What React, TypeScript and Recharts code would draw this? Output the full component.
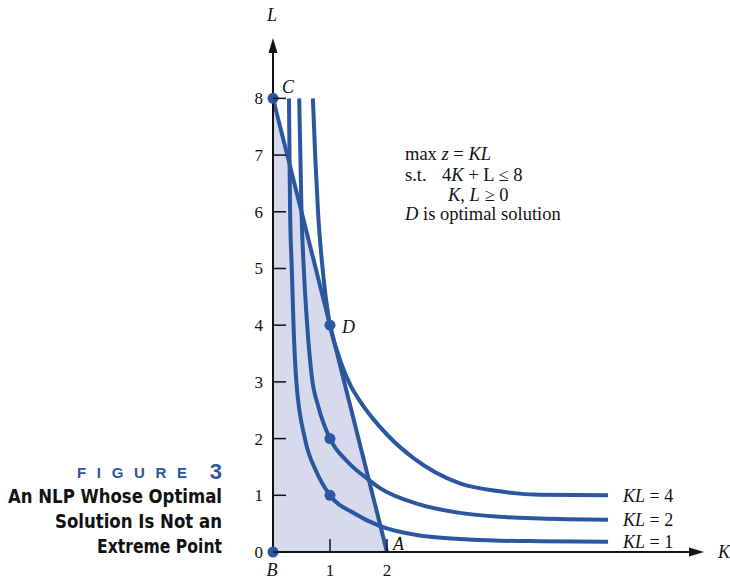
import React from 'react';
import {
  ComposedChart,
  Line,
  Area,
  XAxis,
  YAxis,
  ReferenceDot,
} from 'recharts';

// level curves KL = c (K, L)
const curveKL1 = [
  { K: 0.28, L: 8 }, { K: 0.29, L: 7 }, { K: 0.3, L: 6 }, { K: 0.33, L: 5 },
  { K: 0.36, L: 4 }, { K: 0.41, L: 3 }, { K: 0.56, L: 2 }, { K: 0.76, L: 1.42 },
  { K: 1, L: 1 }, { K: 1.43, L: 0.68 }, { K: 1.87, L: 0.46 },
  { K: 2.57, L: 0.29 }, { K: 3.28, L: 0.23 }, { K: 3.98, L: 0.2 }, { K: 4.68, L: 0.19 },
  { K: 5.88, L: 0.18 },
];
const curveKL2 = [
  { K: 0.46, L: 8 }, { K: 0.48, L: 7 }, { K: 0.5, L: 6 }, { K: 0.54, L: 5 },
  { K: 0.6, L: 4 }, { K: 0.68, L: 3.1 }, { K: 0.8, L: 2.55 }, { K: 1, L: 2 },
  { K: 1.3, L: 1.6 }, { K: 1.67, L: 1.28 }, { K: 1.87, L: 1.13 }, { K: 2.57, L: 0.84 },
  { K: 3.28, L: 0.69 }, { K: 3.98, L: 0.62 }, { K: 4.68, L: 0.59 }, { K: 5.88, L: 0.57 },
];
const curveKL4 = [
  { K: 0.7, L: 8 }, { K: 0.74, L: 7 }, { K: 0.79, L: 6 }, { K: 0.87, L: 5 },
  { K: 1, L: 4 }, { K: 1.12, L: 3.56 }, { K: 1.26, L: 3.16 }, { K: 1.38, L: 2.9 },
  { K: 1.52, L: 2.67 }, { K: 2.02, L: 2.05 }, { K: 2.46, L: 1.66 }, { K: 3.28, L: 1.21 },
  { K: 3.98, L: 1.07 }, { K: 4.68, L: 1.01 }, { K: 5.88, L: 1.0 },
];
const curveNames = ['KL = 4', 'KL = 2', 'KL = 1'];

// constraint 4K + L = 8
const constraint = [
  { K: 0, L: 8 },
  { K: 2, L: 0 },
];

const dotPoints = [
  { K: 0, L: 0 },
  { K: 0, L: 8 },
  { K: 1, L: 1 },
  { K: 1, L: 2 },
  { K: 1, L: 4 },
];
const pointLabels = [
  { name: 'A', K: 2, L: 0 },
  { name: 'B', K: 0, L: 0 },
  { name: 'C', K: 0, L: 8 },
  { name: 'D', K: 1, L: 4 },
];

const xTicks = [1, 2];
const yTicks = [0, 1, 2, 3, 4, 5, 6, 7, 8];

const BLUE = '#2a579f';
const SHADE = '#d7d9ec';
const SERIF = "'Liberation Serif', 'Times New Roman', serif";
const NARROW = "'Liberation Sans Narrow', 'DejaVu Sans Condensed', sans-serif";

const labelOffset: Record<string, [number, number, 'start' | 'middle']> = {
  A: [6, -8, 'start'],
  B: [-1, 18, 'middle'],
  C: [9, -12, 'start'],
  D: [12, 2, 'start'],
};

const YTick = (props: any) => {
  const { x, y, payload } = props;
  return (
    <g>
      <line x1={x} x2={x + 13} y1={y} y2={y} stroke="#111" strokeWidth={1.5} />
      <text x={x - 10} y={y} dy="0.35em" textAnchor="end" fontSize={17} fontFamily={SERIF} fill="#111">
        {payload.value}
      </text>
    </g>
  );
};

const XTick = (props: any) => {
  const { x, y, payload } = props;
  return (
    <g>
      <line x1={x} x2={x} y1={y} y2={y - 13} stroke="#111" strokeWidth={1.5} />
      <text x={x} y={y + 18} dy="0.35em" textAnchor="middle" fontSize={17} fontFamily={SERIF} fill="#111">
        {payload.value}
      </text>
    </g>
  );
};

const Dot = (props: any) => <circle cx={props.cx} cy={props.cy} r={5.5} fill={BLUE} />;

const pointLabel = (name: string) => (props: any) => {
  const { cx, cy } = props;
  const [dx, dy, anchor] = labelOffset[name];
  return (
    <text x={cx + dx} y={cy + dy} dy="0.35em" textAnchor={anchor} fontSize={18} fontStyle="italic" fontFamily={SERIF} fill="#111">
      {name}
    </text>
  );
};

const endLabel = (name: string, last: number) => (props: any) => {
  if (props.index !== last) return null;
  const value = name.split(' = ')[1];
  return (
    <text x={props.x + 15} y={props.y} dy="0.35em" fontSize={18} fontFamily={SERIF} fill="#111">
      <tspan fontStyle="italic">KL</tspan> = {value}
    </text>
  );
};

const ArrowUp = (props: any) => (
  <polygon points={`${props.cx - 4.5},${props.cy} ${props.cx + 4.5},${props.cy} ${props.cx},${props.cy - 15}`} fill="#111" />
);
const ArrowRight = (props: any) => (
  <polygon points={`${props.cx},${props.cy - 4.5} ${props.cx},${props.cy + 4.5} ${props.cx + 15},${props.cy}`} fill="#111" />
);

const curves = [curveKL4, curveKL2, curveKL1];

export default function App() {
  return (
    <div style={{ position: 'absolute', left: 0, top: 0, width: 730, height: 584, background: '#fff' }}>
      <ComposedChart width={730} height={584} margin={{ top: 53, right: 41, bottom: 0, left: 0 }}>
        <XAxis
          type="number"
          dataKey="K"
          domain={[0, 7.3]}
          allowDataOverflow
          ticks={xTicks}
          interval={0}
          height={32}
          tickSize={0}
          tickMargin={0}
          tick={XTick}
          axisLine={{ stroke: '#111', strokeWidth: 2 }}
        />
        <YAxis
          type="number"
          dataKey="L"
          domain={[0, 8.8]}
          allowDataOverflow
          ticks={yTicks}
          interval={0}
          width={273}
          tickSize={0}
          tickMargin={0}
          tick={YTick}
          axisLine={{ stroke: '#111', strokeWidth: 2 }}
        />
        <Area
          data={constraint}
          dataKey="L"
          type="linear"
          fill={SHADE}
          fillOpacity={1}
          stroke="none"
          baseValue={0}
          isAnimationActive={false}
        />
        <Line
          data={constraint}
          dataKey="L"
          type="linear"
          stroke={BLUE}
          strokeWidth={4}
          dot={false}
          isAnimationActive={false}
        />
        {curves.map((c, i) => (
          <Line
            key={curveNames[i]}
            data={c}
            dataKey="L"
            type="monotone"
            stroke={BLUE}
            strokeWidth={4}
            dot={false}
            label={endLabel(curveNames[i], c.length - 1)}
            isAnimationActive={false}
          />
        ))}
        {dotPoints.map((p) => (
          <ReferenceDot key={`dot-${p.K}-${p.L}`} x={p.K} y={p.L} shape={Dot} ifOverflow="visible" />
        ))}
        {pointLabels.map((p) => (
          <ReferenceDot key={p.name} x={p.K} y={p.L} shape={pointLabel(p.name)} ifOverflow="visible" />
        ))}
        <ReferenceDot x={0} y={8.8} r={0} shape={ArrowUp} ifOverflow="visible" />
        <ReferenceDot x={7.3} y={0} r={0} shape={ArrowRight} ifOverflow="visible" />
      </ComposedChart>

      <svg width={730} height={584} style={{ position: 'absolute', left: 0, top: 0, pointerEvents: 'none' }}>
        <text x={272} y={15} dy="0.35em" textAnchor="middle" fontSize={18} fontStyle="italic" fontFamily={SERIF} fill="#111">L</text>
        <text x={718} y={552} dy="0.35em" fontSize={18} fontStyle="italic" fontFamily={SERIF} fill="#111">K</text>

        <g fontSize={18.5} fontFamily={SERIF} fill="#111">
          <text x={405} y={160}>
            max <tspan fontStyle="italic">z</tspan> = <tspan fontStyle="italic">KL</tspan>
          </text>
          <text x={405} y={181}>s.t.</text>
          <text x={442} y={181}>
            4<tspan fontStyle="italic">K</tspan> + L ≤ 8
          </text>
          <text x={448} y={201}>
            <tspan fontStyle="italic">K</tspan>, <tspan fontStyle="italic">L</tspan> ≥ 0
          </text>
          <text x={405} y={220}>
            <tspan fontStyle="italic">D</tspan> is optimal solution
          </text>
        </g>

        <g fill={BLUE} fontFamily="'Liberation Sans', Arial, sans-serif" fontWeight="bold">
          <text x={77} y={478} fontSize={15} textLength={110} lengthAdjust="spacing">FIGURE</text>
          <text x={222} y={479} fontSize={22} textAnchor="end">3</text>
        </g>
        <g fill="#111" fontFamily={NARROW} fontWeight="bold" fontSize={20} textAnchor="end">
          <text x={222} y={503} textLength={214} lengthAdjust="spacingAndGlyphs">An NLP Whose Optimal</text>
          <text x={222} y={528} textLength={167} lengthAdjust="spacingAndGlyphs">Solution Is Not an</text>
          <text x={222} y={553} textLength={125} lengthAdjust="spacingAndGlyphs">Extreme Point</text>
        </g>
      </svg>
    </div>
  );
}
